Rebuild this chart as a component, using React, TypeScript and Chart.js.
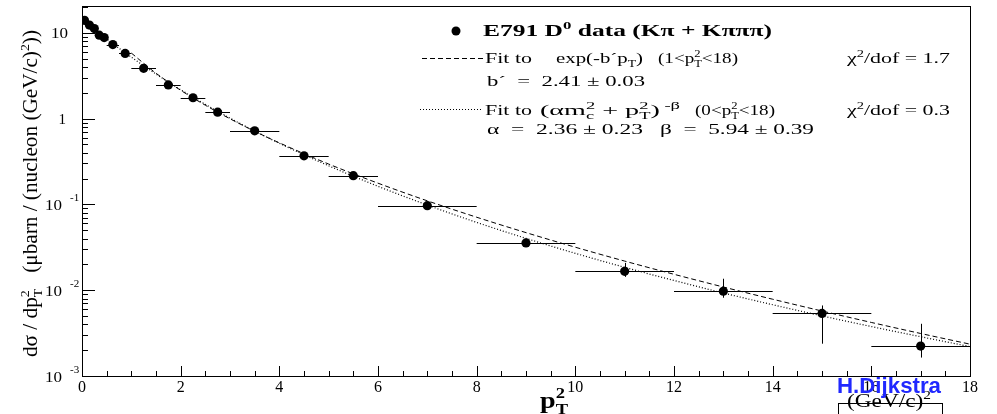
import React, { useEffect, useRef } from 'react';
import { Chart, registerables } from 'chart.js';

Chart.register(...registerables);

// ---- data ----
const dataX = [0.05, 0.15, 0.25, 0.35, 0.45, 0.625, 0.875, 1.25, 1.75, 2.25, 2.75, 3.5, 4.5, 5.5, 7, 9, 11, 13, 15, 17];
const dataXLo = [0, 0.1, 0.2, 0.3, 0.4, 0.5, 0.75, 1, 1.5, 2, 2.5, 3, 4, 5, 6, 8, 10, 12, 14, 16];
const dataXHi = [0.1, 0.2, 0.3, 0.4, 0.5, 0.75, 1, 1.5, 2, 2.5, 3, 4, 5, 6, 8, 10, 12, 14, 16, 18];
const dataY = [14.0, 12.3, 11.2, 9.4, 8.8, 7.3, 5.75, 3.86, 2.47, 1.75, 1.19, 0.72, 0.368, 0.216, 0.0966, 0.0356, 0.0166, 0.00973, 0.00536, 0.00223];
const dataYLo = [13.6, 11.9, 10.9, 9.1, 8.5, 7.05, 5.55, 3.72, 2.38, 1.68, 1.14, 0.69, 0.35, 0.205, 0.091, 0.0338, 0.0143, 0.00817, 0.00238, 0.00164];
const dataYHi = [14.4, 12.7, 11.5, 9.7, 9.1, 7.55, 5.95, 4.0, 2.56, 1.82, 1.24, 0.75, 0.386, 0.228, 0.102, 0.0375, 0.0208, 0.0136, 0.00664, 0.00406];

const fitExpX = [1, 1.5, 2, 2.5, 3, 3.5, 4, 5, 6, 7, 8, 9, 10, 11, 12, 13, 14, 15, 16, 17, 18];
const fitExpY = [5.81, 3.38, 2.14, 1.433, 0.996, 0.712, 0.522, 0.2954, 0.1768, 0.1101, 0.0709, 0.0469, 0.0317, 0.02185, 0.01533, 0.0109, 0.00785, 0.00572, 0.00421, 0.00313, 0.00235];

const fitPowX = [0, 0.25, 0.5, 0.75, 1, 1.5, 2, 2.5, 3, 3.5, 4, 5, 6, 7, 8, 9, 10, 11, 12, 13, 14, 15, 16, 17, 18];
const fitPowY = [14.5, 11.03, 8.5, 6.61, 5.2, 3.31, 2.17, 1.466, 1.014, 0.716, 0.516, 0.282, 0.1626, 0.0983, 0.0617, 0.0402, 0.0269, 0.01848, 0.01297, 0.00928, 0.00677, 0.00502, 0.00377, 0.00287, 0.0022];

const xMajorTicks = [0, 2, 4, 6, 8, 10, 12, 14, 16, 18];
const yDecades = [-3, -2, -1, 0, 1];

const SERIF = '"Liberation Serif", "DejaVu Serif", serif';
const SANS = '"Liberation Sans", Arial, sans-serif';

type Seg = { t: string; m?: 'n' | 'u' | 'd' | 's'; t2?: string };
type Unit = { parts: { ch: string; size: number; dy: number }[]; w: number };

function r2(v: number) {
  return Math.round(v * 100) / 100;
}

function buildUnits(ctx: CanvasRenderingContext2D, segs: Seg[], size: number, weight: string, fam: string): Unit[] {
  const units: Unit[] = [];
  const font = (s: number) => `${weight} ${s}px ${fam}`;
  for (const s of segs) {
    const m = s.m || 'n';
    if (m === 's') {
      const ss = r2(size * 0.66);
      ctx.font = font(ss);
      const w = Math.max(ctx.measureText(s.t).width, ctx.measureText(s.t2 || '').width);
      units.push({ parts: [{ ch: s.t, size: ss, dy: size * 0.24 }, { ch: s.t2 || '', size: ss, dy: -size * 0.42 }], w });
    } else {
      const sz = m === 'n' ? size : r2(size * 0.66);
      const dy = m === 'u' ? -size * 0.42 : m === 'd' ? size * 0.24 : 0;
      ctx.font = font(sz);
      units.push({ parts: [{ ch: s.t, size: sz, dy }], w: ctx.measureText(s.t).width });
    }
  }
  return units;
}

function drawRich(
  ctx: CanvasRenderingContext2D,
  segs: Seg[],
  x: number,
  y: number,
  size: number,
  opts: { weight?: string; target?: number; color?: string; align?: 'left' | 'center' | 'right'; fam?: string } = {}
) {
  const weight = opts.weight || 'normal';
  const fam = opts.fam || SERIF;
  const units = buildUnits(ctx, segs, size, weight, fam);
  const W = units.reduce((a, u) => a + u.w, 0);
  const sx = opts.target ? opts.target / W : 1;
  const total = W * sx;
  let x0 = x;
  if (opts.align === 'center') x0 = x - total / 2;
  else if (opts.align === 'right') x0 = x - total;
  ctx.save();
  ctx.fillStyle = opts.color || '#000';
  ctx.textBaseline = 'alphabetic';
  ctx.textAlign = 'left';
  ctx.translate(x0, y);
  ctx.scale(sx, 1);
  let cx = 0;
  for (const u of units) {
    for (const p of u.parts) {
      ctx.font = `${weight} ${p.size}px ${fam}`;
      ctx.fillText(p.ch, cx, p.dy);
    }
    cx += u.w;
  }
  ctx.restore();
}

const overlay = {
  id: 'overlay',
  beforeDatasetsDraw(chart: any) {
    const ctx: CanvasRenderingContext2D = chart.ctx;
    const xs = chart.scales.x;
    const ys = chart.scales.y;
    ctx.save();
    ctx.strokeStyle = '#000';
    ctx.lineWidth = 1;
    for (let i = 0; i < dataX.length; i++) {
      const px = xs.getPixelForValue(dataX[i]);
      const py = ys.getPixelForValue(dataY[i]);
      ctx.beginPath();
      ctx.moveTo(xs.getPixelForValue(dataXLo[i]), Math.round(py) + 0.5);
      ctx.lineTo(xs.getPixelForValue(dataXHi[i]), Math.round(py) + 0.5);
      ctx.moveTo(Math.round(px) + 0.5, ys.getPixelForValue(dataYLo[i]));
      ctx.lineTo(Math.round(px) + 0.5, ys.getPixelForValue(dataYHi[i]));
      ctx.stroke();
    }
    ctx.restore();
  },
  afterDraw(chart: any) {
    const ctx: CanvasRenderingContext2D = chart.ctx;
    const xs = chart.scales.x;
    const ys = chart.scales.y;
    const { left, right, top, bottom } = chart.chartArea;
    ctx.save();
    ctx.strokeStyle = '#000';
    ctx.lineWidth = 1;
    // frame
    ctx.strokeRect(left + 0.5, top - 0.5, right - left, bottom - top + 1);

    // x ticks
    ctx.beginPath();
    for (let v = 0; v <= 18.001; v += 0.5) {
      const px = Math.round(xs.getPixelForValue(v)) + 0.5;
      const major = Math.abs(v / 2 - Math.round(v / 2)) < 1e-6;
      const len = major ? 10 : 5;
      ctx.moveTo(px, bottom);
      ctx.lineTo(px, bottom - len);
    }
    // y ticks
    for (const d of yDecades) {
      for (let k = 1; k <= 9; k++) {
        const v = k * Math.pow(10, d);
        if (v > 20.0001 || v < 0.001) continue;
        const py = Math.round(ys.getPixelForValue(v)) + 0.5;
        const len = k === 1 ? 13 : 6;
        ctx.moveTo(left, py);
        ctx.lineTo(left + len, py);
      }
    }
    const py20 = Math.round(ys.getPixelForValue(20)) + 0.5;
    ctx.moveTo(left, py20);
    ctx.lineTo(left + 6, py20);
    ctx.stroke();

    // x tick labels
    for (const v of xMajorTicks) {
      drawRich(ctx, [{ t: String(v) }], xs.getPixelForValue(v), bottom + 16, 16, { align: 'center' });
    }
    // y tick labels
    for (const d of yDecades) {
      const py = ys.getPixelForValue(Math.pow(10, d));
      if (d === 1) drawRich(ctx, [{ t: '10' }], 68, py + 5, 15, { align: 'right', target: 17 });
      else if (d === 0) drawRich(ctx, [{ t: '1' }], 66, py + 5, 15, { align: 'right' });
      else {
        drawRich(ctx, [{ t: '10' }], 62, py + 6, 15, { align: 'right', target: 17 });
        drawRich(ctx, [{ t: String(d) }], 70, py - 3, 11, {});
      }
    }

    // y title (rotated)
    ctx.save();
    ctx.translate(37, 357);
    ctx.rotate(-Math.PI / 2);
    drawRich(
      ctx,
      [{ t: 'dσ / dp' }, { m: 's', t: 'T', t2: '2' }, { t: '   (μbarn / (nucleon (GeV/c)' }, { m: 'u', t: '2' }, { t: '))' }],
      0,
      0,
      20,
      { target: 327 }
    );
    ctx.restore();

    // x title
    drawRich(ctx, [{ t: 'p' }, { m: 's', t: 'T', t2: '2' }], 540, 408, 23, { weight: 'bold', target: 28 });

    // units (GeV/c)^2 + box + signature
    drawRich(ctx, [{ t: '(GeV/c)' }, { m: 'u', t: '2' }], 847, 407, 18, { target: 84 });
    ctx.strokeRect(838.5, 403.5, 104, 20);
    drawRich(ctx, [{ t: 'H.Dijkstra' }], 837, 393, 22, { weight: 'bold', fam: SANS, color: 'rgb(32,40,255)', target: 104 });

    // legend
    ctx.fillStyle = '#000';
    ctx.beginPath();
    ctx.arc(456, 31, 4.5, 0, Math.PI * 2);
    ctx.fill();
    drawRich(ctx, [{ t: 'E791 D' }, { m: 'u', t: '0' }, { t: ' data (Kπ + Kπππ)' }], 483, 36, 16, { weight: 'bold', target: 289 });

    ctx.setLineDash([5, 3]);
    ctx.beginPath();
    ctx.moveTo(422, 58.5);
    ctx.lineTo(483, 58.5);
    ctx.stroke();
    ctx.setLineDash([1, 2]);
    ctx.beginPath();
    ctx.moveTo(420, 109.5);
    ctx.lineTo(483, 109.5);
    ctx.stroke();
    ctx.setLineDash([]);

    drawRich(ctx, [{ t: 'Fit to' }], 485, 63, 15, { target: 47 });
    drawRich(ctx, [{ t: 'exp(-b´p' }, { m: 'd', t: 'T' }, { t: ')' }], 556, 63, 15, { target: 87 });
    drawRich(ctx, [{ t: '(1<p' }, { m: 's', t: 'T', t2: '2' }, { t: '<18)' }], 658, 63, 15, { target: 80 });
    drawRich(ctx, [{ t: 'χ' }, { m: 'u', t: '2' }, { t: '/dof = 1.7' }], 847, 63, 15, { target: 103 });
    drawRich(ctx, [{ t: 'b´  =  2.41 ± 0.03' }], 487, 86, 15, { target: 158 });

    drawRich(ctx, [{ t: 'Fit to' }], 485, 115, 15, { target: 47 });
    drawRich(
      ctx,
      [{ t: '(αm' }, { m: 's', t: 'c', t2: '2' }, { t: ' + p' }, { m: 's', t: 'T', t2: '2' }, { t: ')' }, { m: 'u', t: ' -β' }],
      540,
      115,
      15,
      { target: 140 }
    );
    drawRich(ctx, [{ t: '(0<p' }, { m: 's', t: 'T', t2: '2' }, { t: '<18)' }], 695, 115, 15, { target: 80 });
    drawRich(ctx, [{ t: 'χ' }, { m: 'u', t: '2' }, { t: '/dof = 0.3' }], 847, 115, 15, { target: 103 });
    drawRich(ctx, [{ t: 'α  =  2.36 ± 0.23' }], 487, 134, 15, { target: 156 });
    drawRich(ctx, [{ t: 'β  =  5.94 ± 0.39' }], 660, 134, 15, { target: 154 });

    ctx.restore();
  },
};

export default function App() {
  const ref = useRef<HTMLCanvasElement | null>(null);
  useEffect(() => {
    if (!ref.current) return;
    const chart = new Chart(ref.current, {
      type: 'scatter',
      data: {
        datasets: [
          {
            label: 'E791 D0 data',
            data: dataX.map((x, i) => ({ x, y: dataY[i] })),
            showLine: false,
            pointRadius: 4.6,
            pointBackgroundColor: '#000',
            pointBorderColor: '#000',
            pointBorderWidth: 0,
          },
          {
            label: 'exp fit',
            data: fitExpX.map((x, i) => ({ x, y: fitExpY[i] })),
            showLine: true,
            pointRadius: 0,
            borderColor: '#000',
            borderWidth: 1,
            borderDash: [5, 3],
            cubicInterpolationMode: 'monotone',
          },
          {
            label: 'power fit',
            data: fitPowX.map((x, i) => ({ x, y: fitPowY[i] })),
            showLine: true,
            pointRadius: 0,
            borderColor: '#000',
            borderWidth: 1.2,
            borderDash: [1, 2],
            cubicInterpolationMode: 'monotone',
          },
        ],
      } as any,
      options: {
        responsive: false,
        devicePixelRatio: 1,
        animation: false,
        layout: { padding: { left: 82, right: 27, top: 7, bottom: 38 } },
        plugins: { legend: { display: false }, tooltip: { enabled: false } },
        scales: {
          x: { type: 'linear', min: 0, max: 18, display: false },
          y: { type: 'logarithmic', min: 0.001, max: 20, display: false },
        },
      } as any,
      plugins: [overlay],
    });
    return () => chart.destroy();
  }, []);
  return (
    <div style={{ position: 'fixed', left: 0, top: 0, width: 997, height: 414, background: '#fff' }}>
      <canvas ref={ref} width={997} height={414} style={{ display: 'block', width: 997, height: 414 }} />
    </div>
  );
}
